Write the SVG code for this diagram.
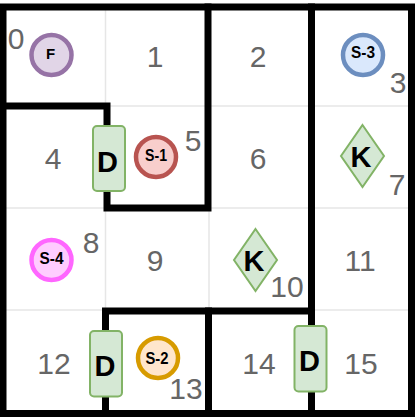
<svg xmlns="http://www.w3.org/2000/svg" width="419" height="420" viewBox="0 0 419 420">
<style>
.grid{stroke:#e6e6e6;stroke-width:1.5;fill:none}
.wall{stroke:#000;stroke-width:7;fill:none;stroke-linecap:square;stroke-linejoin:miter}
.num{font:30px "Liberation Sans",Arial,sans-serif;fill:#666;text-anchor:middle}
.lab{font-family:"Liberation Sans",Arial,sans-serif;fill:#000;text-anchor:middle;font-weight:700}
.s{font-size:17px}
.big{font-size:29px}
.sym{stroke-width:4.5}
.door{fill:#d5e8d4;stroke:#82b366;stroke-width:2}
</style>
<rect width="419" height="420" fill="#fff"/>
<g id="grid">
<path class="grid" d="M105.500 7V413M209 7V413M311 7V413M3 106H412M3 208H412M3 310H412"/>
</g>
<g id="walls">
<rect class="wall" x="3" y="7" width="408.500" height="406.500"/>
<path class="wall" d="M3 106H107V208H208V7"/>
<path class="wall" d="M311.500 7V311H105.500V413"/>
<path class="wall" d="M208.500 311V413M311.500 311V413"/>
</g>
<g id="cell-numbers">
<text class="num" x="16" y="49">0</text>
<text class="num" x="155" y="67">1</text>
<text class="num" x="258" y="67">2</text>
<text class="num" x="398" y="93">3</text>
<text class="num" x="53" y="169">4</text>
<text class="num" x="193" y="151">5</text>
<text class="num" x="258" y="169">6</text>
<text class="num" x="397" y="195">7</text>
<text class="num" x="91" y="253">8</text>
<text class="num" x="155" y="271">9</text>
<text class="num" x="287" y="297">10</text>
<text class="num" x="360" y="271">11</text>
<text class="num" x="54" y="374">12</text>
<text class="num" x="186" y="399">13</text>
<text class="num" x="259" y="374">14</text>
<text class="num" x="361" y="374">15</text>
</g>
<g id="node-F"><circle class="sym" cx="51.500" cy="55" r="20" fill="#e1d5e7" stroke="#9673a6"/><text class="lab s" x="50.500" y="58.500" font-size="15" style="font-size:15px">F</text></g>
<g id="node-S-1"><circle class="sym" cx="156" cy="157" r="20" fill="#f8cecc" stroke="#b85450"/><text class="lab s" x="156" y="161" textLength="22" lengthAdjust="spacingAndGlyphs">S-1</text></g>
<g id="node-S-2"><circle class="sym" cx="158" cy="358" r="20" fill="#ffe6cc" stroke="#d79b00"/><text class="lab s" x="157" y="364" textLength="23" lengthAdjust="spacingAndGlyphs">S-2</text></g>
<g id="node-S-3"><circle class="sym" cx="363" cy="55" r="20" fill="#dae8fc" stroke="#6c8ebf"/><text class="lab s" x="363" y="58" textLength="24" lengthAdjust="spacingAndGlyphs">S-3</text></g>
<g id="node-S-4"><circle class="sym" cx="51.500" cy="260" r="20" fill="#ffccff" stroke="#ff66ff"/><text class="lab s" x="51.500" y="264" textLength="24" lengthAdjust="spacingAndGlyphs">S-4</text></g>
<g id="node-K-7"><polygon class="door" points="362.500,125 384,156 362.500,187 341,156"/><text class="lab big" x="361" y="167">K</text></g>
<g id="node-K-10"><polygon class="door" points="255.500,229 277,260 255.500,291 234,260"/><text class="lab big" x="254" y="270.500">K</text></g>
<g id="node-D-4"><rect class="door" x="93" y="126" width="32" height="65" rx="4"/><text class="lab big" x="107.500" y="172">D</text></g>
<g id="node-D-12"><rect class="door" x="90" y="331" width="32" height="65.500" rx="4"/><text class="lab big" x="105" y="376">D</text></g>
<g id="node-D-14"><rect class="door" x="294.500" y="326" width="32" height="65.500" rx="4"/><text class="lab big" x="309.500" y="371">D</text></g>
</svg>
